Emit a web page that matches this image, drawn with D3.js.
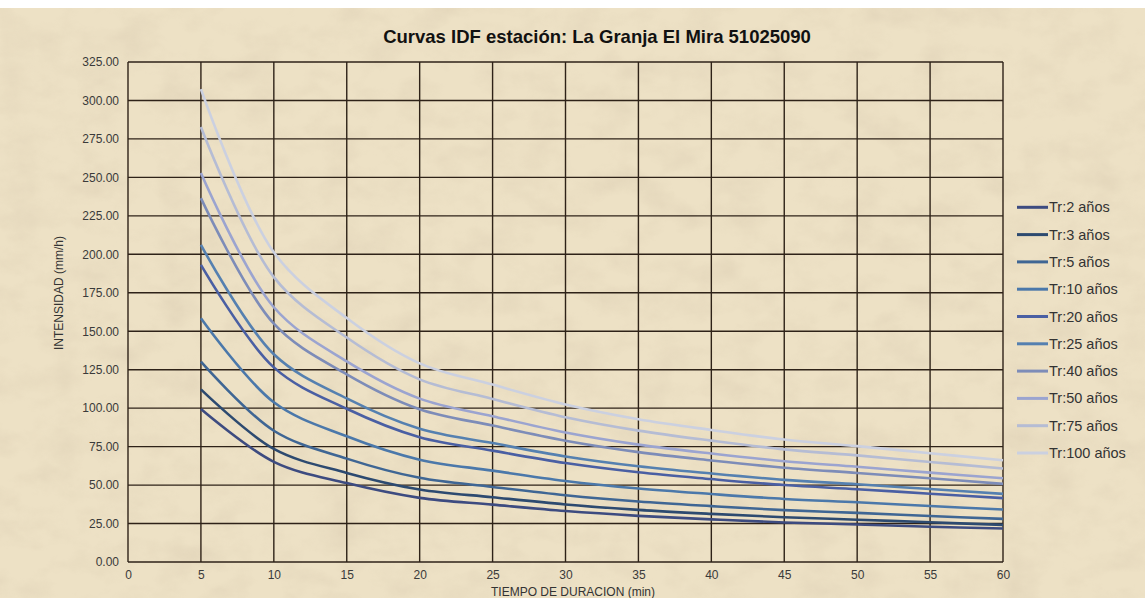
<!DOCTYPE html>
<html lang="es">
<head>
<meta charset="UTF-8">
<title>Curvas IDF</title>
<script src="https://d3js.org/d3.v7.min.js"></script>
<style>
  body { margin: 0; background: #fff; }
  svg { display: block; font-family: "Liberation Sans", Arial, sans-serif; }
</style>
</head>
<body>
<svg width="1145" height="598"></svg>
<script>
// durations (min)
var durations = [5, 10, 15, 20, 25, 30, 35, 40, 45, 50, 55, 60];

// return periods
var seriesNames = ["Tr:2 años", "Tr:3 años", "Tr:5 años", "Tr:10 años", "Tr:20 años",
                   "Tr:25 años", "Tr:40 años", "Tr:50 años", "Tr:75 años", "Tr:100 años"];

// intensities (mm/h)
var tr2   = [99.4, 65.1, 51.3, 41.7, 37.3, 33.1, 30.0, 27.7, 25.7, 24.4, 22.9, 21.8];
var tr3   = [112.2, 73.5, 57.9, 47.1, 42.1, 37.4, 33.9, 31.3, 29.1, 27.5, 25.8, 24.1];
var tr5   = [130.2, 85.3, 67.2, 54.7, 48.8, 43.4, 39.3, 36.3, 33.7, 31.9, 29.9, 28.0];
var tr10  = [158.4, 103.8, 81.7, 66.5, 59.4, 52.7, 47.8, 44.2, 41.0, 38.8, 36.4, 34.1];
var tr20  = [193.1, 126.5, 99.6, 81.1, 72.4, 64.3, 58.3, 53.9, 50.0, 47.3, 44.4, 41.5];
var tr25  = [206.1, 135.0, 106.3, 86.6, 77.3, 68.6, 62.2, 57.5, 53.4, 50.5, 47.4, 44.3];
var tr40  = [236.5, 154.9, 122.0, 99.3, 88.7, 78.8, 71.4, 66.0, 61.3, 57.9, 54.4, 50.8];
var tr50  = [252.8, 165.6, 130.4, 106.2, 94.8, 84.2, 76.3, 70.5, 65.5, 61.9, 58.1, 54.4];
var tr75  = [282.7, 185.2, 145.9, 118.7, 106.0, 94.1, 85.4, 78.9, 73.2, 69.3, 65.0, 60.8];
var tr100 = [307.4, 201.3, 158.6, 129.1, 115.3, 102.4, 92.8, 85.8, 79.6, 75.3, 70.7, 66.1];

var xTicks = [0, 5, 10, 15, 20, 25, 30, 35, 40, 45, 50, 55, 60];
var yTicks = [0, 25, 50, 75, 100, 125, 150, 175, 200, 225, 250, 275, 300, 325];

var allSeries = [tr2, tr3, tr5, tr10, tr20, tr25, tr40, tr50, tr75, tr100];
var colors = ["#3d4b80", "#2d4a70", "#3f6694", "#4b78aa", "#4a5fa3",
              "#5580b0", "#7d8cb8", "#9ba4d0", "#b5bcd4", "#cbd0e0"];

var W = 1145, H = 598;
var margin = {top: 62, right: 142, bottom: 36, left: 128};
var width = W - margin.left - margin.right;
var height = H - margin.top - margin.bottom;

var root = d3.select("svg");

// parchment background with a procedural texture
var defs = root.append("defs");
var filt = defs.append("filter").attr("id", "paper")
  .attr("x", 0).attr("y", 0).attr("width", "100%").attr("height", "100%");
filt.append("feTurbulence").attr("type", "fractalNoise")
  .attr("baseFrequency", "0.025 0.035").attr("numOctaves", 5).attr("seed", 3).attr("result", "n");
filt.append("feColorMatrix").attr("in", "n").attr("type", "matrix")
  .attr("values", "0 0 0 0 0.62  0 0 0 0 0.52  0 0 0 0 0.38  0.9 0.9 0 0 -0.78");

root.append("rect").attr("width", W).attr("height", H).attr("fill", "#ede1c5");
root.append("rect").attr("width", W).attr("height", H).attr("filter", "url(#paper)").attr("opacity", 0.4);

// white strip on top (spreadsheet edge)
root.append("rect").attr("width", W).attr("height", 8).attr("fill", "#ffffff");

var svg = root.append("g")
  .attr("transform", "translate(" + margin.left + "," + margin.top + ")");

var x = d3.scaleLinear().domain([0, 60]).range([0, width]);
var y = d3.scaleLinear().domain([0, 325]).range([height, 0]);

// grid
svg.append("g").selectAll("line").data(yTicks).enter().append("line")
  .attr("x1", 0).attr("x2", width)
  .attr("y1", function(d) { return y(d); }).attr("y2", function(d) { return y(d); })
  .attr("stroke", "#2e2218").attr("stroke-width", 1.4);

svg.append("g").selectAll("line").data(xTicks).enter().append("line")
  .attr("y1", 0).attr("y2", height)
  .attr("x1", function(d) { return x(d); }).attr("x2", function(d) { return x(d); })
  .attr("stroke", "#2e2218").attr("stroke-width", 1.4);

// axes (labels only, grid drawn above)
var yAxis = svg.append("g")
  .call(d3.axisLeft(y).tickValues(yTicks).tickFormat(d3.format(".2f")).tickSize(0).tickPadding(9));
var xAxis = svg.append("g")
  .attr("transform", "translate(0," + height + ")")
  .call(d3.axisBottom(x).tickValues(xTicks).tickSize(0).tickPadding(8));

[yAxis, xAxis].forEach(function(a) {
  a.select(".domain").remove();
  a.selectAll("text")
    .style("font-family", "'Liberation Sans', Arial, sans-serif")
    .style("font-size", "12px")
    .attr("fill", "#3a3a3a");
});

// lines
var line = d3.line()
  .x(function(d, i) { return x(durations[i]); })
  .y(function(d) { return y(d); })
  .curve(d3.curveCatmullRom.alpha(0.5));

svg.selectAll(".serie").data(allSeries).enter().append("path")
  .attr("class", "serie")
  .attr("d", line)
  .attr("fill", "none")
  .attr("stroke", function(d, i) { return colors[i]; })
  .attr("stroke-width", 2.6);

// title
root.append("text")
  .attr("x", 597).attr("y", 43)
  .attr("text-anchor", "middle")
  .style("font-size", "18.5px")
  .style("font-weight", "bold")
  .attr("fill", "#111")
  .text("Curvas IDF estación: La Granja El Mira 51025090");

// axis titles
root.append("text")
  .attr("transform", "translate(63," + 293 + ") rotate(-90)")
  .attr("text-anchor", "middle")
  .style("font-size", "12px")
  .attr("fill", "#333")
  .text("INTENSIDAD (mm/h)");

root.append("text")
  .attr("x", 573).attr("y", 596)
  .attr("text-anchor", "middle")
  .style("font-size", "12px")
  .attr("fill", "#333")
  .text("TIEMPO DE DURACION (min)");

// legend
var legend = root.selectAll(".legend").data(seriesNames).enter().append("g")
  .attr("class", "legend")
  .attr("transform", function(d, i) { return "translate(1017," + (207.3 + i * 27.3) + ")"; });

legend.append("line")
  .attr("x1", 0).attr("x2", 31).attr("y1", 0).attr("y2", 0)
  .attr("stroke", function(d, i) { return colors[i]; })
  .attr("stroke-width", 3);

legend.append("text")
  .attr("x", 32).attr("y", 5)
  .style("font-size", "14.5px")
  .attr("fill", "#333")
  .text(function(d) { return d; });
</script>
</body>
</html>
